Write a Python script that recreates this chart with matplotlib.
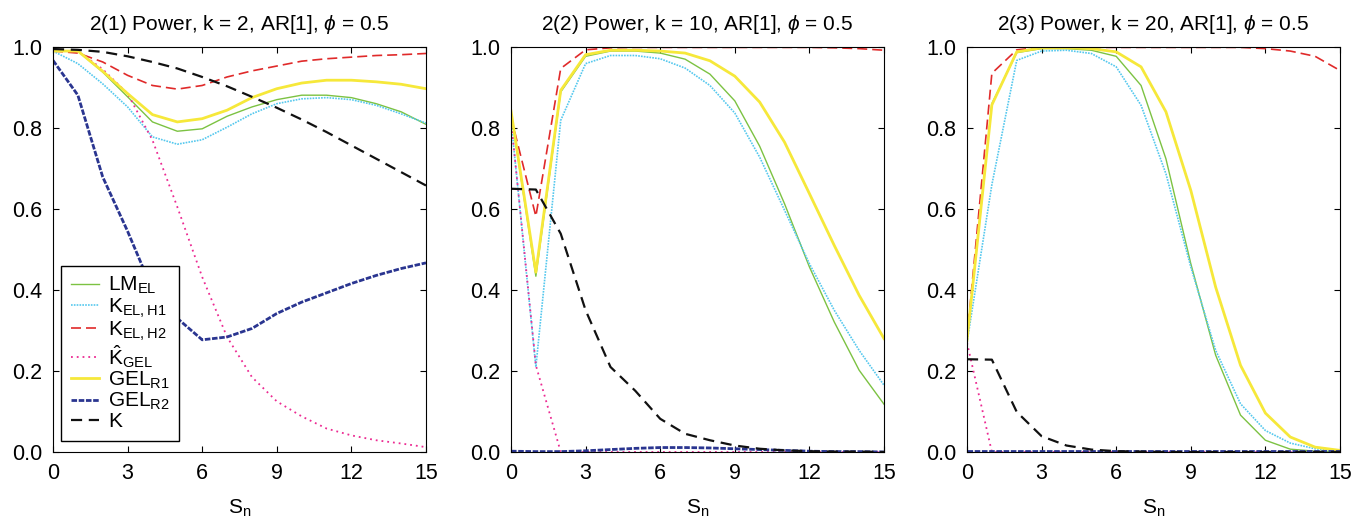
import numpy as np
import matplotlib
matplotlib.use("Agg")
import matplotlib.pyplot as plt

plt.rcParams["font.family"] = ["Liberation Sans", "DejaVu Sans"]
plt.rcParams["mathtext.fontset"] = "custom"
plt.rcParams["mathtext.rm"] = "Liberation Sans"
plt.rcParams["mathtext.it"] = "Liberation Sans:italic"

# x grid
s_n = np.arange(16)

# Panel 1: k = 2
lm_el_1 = [0.99, 0.99, 0.938, 0.877, 0.815, 0.792, 0.798, 0.829, 0.852, 0.870, 0.881, 0.881, 0.875, 0.860, 0.840, 0.809]
k_h1_1 = [0.99, 0.959, 0.909, 0.852, 0.778, 0.760, 0.771, 0.802, 0.835, 0.860, 0.872, 0.875, 0.870, 0.856, 0.835, 0.812]
k_h2_1 = [0.99, 0.985, 0.963, 0.930, 0.905, 0.896, 0.905, 0.926, 0.941, 0.953, 0.965, 0.971, 0.975, 0.979, 0.981, 0.984]
k_gel_1 = [0.99, 0.99, 0.945, 0.885, 0.770, 0.605, 0.432, 0.284, 0.185, 0.125, 0.088, 0.058, 0.041, 0.029, 0.021, 0.012]
gel_r1_1 = [0.99, 0.99, 0.94, 0.885, 0.833, 0.815, 0.823, 0.844, 0.875, 0.897, 0.911, 0.918, 0.918, 0.914, 0.908, 0.897]
gel_r2_1 = [0.967, 0.881, 0.679, 0.545, 0.40, 0.33, 0.277, 0.284, 0.305, 0.342, 0.370, 0.393, 0.416, 0.436, 0.453, 0.467]
k_1 = [0.995, 0.993, 0.988, 0.977, 0.963, 0.947, 0.926, 0.903, 0.877, 0.850, 0.821, 0.790, 0.757, 0.724, 0.691, 0.658]

# Panel 2: k = 10
lm_el_2 = [0.84, 0.434, 0.889, 0.977, 0.99, 0.99, 0.985, 0.97, 0.933, 0.867, 0.755, 0.613, 0.457, 0.321, 0.202, 0.118]
k_h1_2 = [0.82, 0.21, 0.819, 0.959, 0.979, 0.979, 0.971, 0.948, 0.905, 0.837, 0.728, 0.597, 0.465, 0.350, 0.251, 0.165]
k_h2_2 = [0.827, 0.582, 0.947, 0.993, 0.998, 0.999, 0.999, 0.999, 0.999, 0.999, 0.999, 0.999, 0.999, 0.998, 0.996, 0.992]
k_gel_2 = [0.82, 0.214, 0.0, 0.0, 0.0, 0.0, 0.0, 0.0, 0.0, 0.0, 0.0, 0.0, 0.0, 0.0, 0.0, 0.0]
gel_r1_2 = [0.842, 0.444, 0.893, 0.981, 0.992, 0.992, 0.99, 0.985, 0.966, 0.928, 0.864, 0.765, 0.638, 0.510, 0.387, 0.28]
gel_r2_2 = [0.002, 0.001, 0.001, 0.003, 0.006, 0.009, 0.011, 0.011, 0.010, 0.008, 0.006, 0.004, 0.002, 0.001, 0.001, 0.0]
k_2 = [0.65, 0.648, 0.539, 0.35, 0.21, 0.151, 0.082, 0.045, 0.029, 0.016, 0.008, 0.004, 0.002, 0.001, 0.001, 0.0]

# Panel 3: k = 20
lm_el_3 = [0.276, 0.86, 0.986, 0.996, 0.996, 0.992, 0.977, 0.905, 0.724, 0.465, 0.239, 0.091, 0.029, 0.007, 0.002, 0.001]
k_h1_3 = [0.27, 0.66, 0.967, 0.99, 0.992, 0.984, 0.951, 0.856, 0.687, 0.457, 0.251, 0.119, 0.053, 0.022, 0.008, 0.002]
k_h2_3 = [0.28, 0.935, 0.993, 0.999, 0.999, 0.999, 0.999, 0.999, 0.999, 0.999, 0.999, 0.999, 0.996, 0.99, 0.977, 0.942]
k_gel_3 = [0.27, 0.0, 0.0, 0.0, 0.0, 0.0, 0.0, 0.0, 0.0, 0.0, 0.0, 0.0, 0.0, 0.0, 0.0, 0.0]
gel_r1_3 = [0.276, 0.857, 0.988, 0.998, 0.998, 0.996, 0.988, 0.951, 0.840, 0.646, 0.407, 0.214, 0.096, 0.037, 0.012, 0.004]
gel_r2_3 = [0.002, 0.002, 0.002, 0.002, 0.002, 0.002, 0.002, 0.002, 0.002, 0.002, 0.002, 0.002, 0.002, 0.002, 0.002, 0.002]
k_3 = [0.229, 0.228, 0.099, 0.039, 0.016, 0.006, 0.002, 0.001, 0.0, 0.0, 0.0, 0.0, 0.0, 0.0, 0.0, 0.0]

titles = [r"2(1) Power, k = 2, AR[1], $\phi$ = 0.5",
          r"2(2) Power, k = 10, AR[1], $\phi$ = 0.5",
          r"2(3) Power, k = 20, AR[1], $\phi$ = 0.5"]

labels = [r"LM$_{\mathrm{EL}}$", r"K$_{\mathrm{EL,H1}}$", r"K$_{\mathrm{EL,H2}}$",
          r"$\hat{\mathrm{K}}_{\mathrm{GEL}}$", r"GEL$_{\mathrm{R1}}$", r"GEL$_{\mathrm{R2}}$", "K"]

panels = [
    [lm_el_1, k_h1_1, k_h2_1, k_gel_1, gel_r1_1, gel_r2_1, k_1],
    [lm_el_2, k_h1_2, k_h2_2, k_gel_2, gel_r1_2, gel_r2_2, k_2],
    [lm_el_3, k_h1_3, k_h2_3, k_gel_3, gel_r1_3, gel_r2_3, k_3],
]

styles = [
    dict(color="#7cc242", lw=1.0, ls="-"),
    dict(color="#55c8ee", lw=1.2, ls=(0, (1, 0.7))),
    dict(color="#e02a2a", lw=1.2, ls=(0, (6, 3))),
    dict(color="#ec2a92", lw=1.3, ls=(0, (1, 2.2))),
    dict(color="#f6e83a", lw=2.0, ls="-"),
    dict(color="#2a3590", lw=2.0, ls=(0, (2, 0.6))),
    dict(color="#111111", lw=1.6, ls=(0, (5, 3))),
]

fig = plt.figure(figsize=(13.56, 5.31), dpi=100)
lefts = [53, 511, 967]
for i, left in enumerate(lefts):
    ax = fig.add_axes([left / 1356, 79 / 531, 373 / 1356, 405 / 531])
    for data, st, lab in zip(panels[i], styles, labels):
        ax.plot(s_n, data, label=lab, **st)
    ax.set_xlim(0, 15)
    ax.set_ylim(0, 1)
    ax.set_xticks([0, 3, 6, 9, 12, 15])
    ax.set_yticks([0, 0.2, 0.4, 0.6, 0.8, 1.0])
    ax.set_yticklabels(["0.0", "0.2", "0.4", "0.6", "0.8", "1.0"])
    ax.tick_params(direction="in", top=True, right=True, labelsize=15.5, length=4, pad=8)
    ax.set_title(titles[i], fontsize=15, pad=12)
    ax.set_xlabel(r"S$_{\mathrm{n}}$", fontsize=15, labelpad=10)
    if i == 0:
        leg = ax.legend(loc="lower left", bbox_to_anchor=(0.022, 0.028), fontsize=15,
                        fancybox=False, edgecolor="black", framealpha=1,
                        handlelength=1.35, handletextpad=0.45, labelspacing=0.0,
                        borderpad=0.45, borderaxespad=0)
        leg.get_frame().set_linewidth(1.0)

fig.savefig("out.png", dpi=100)
